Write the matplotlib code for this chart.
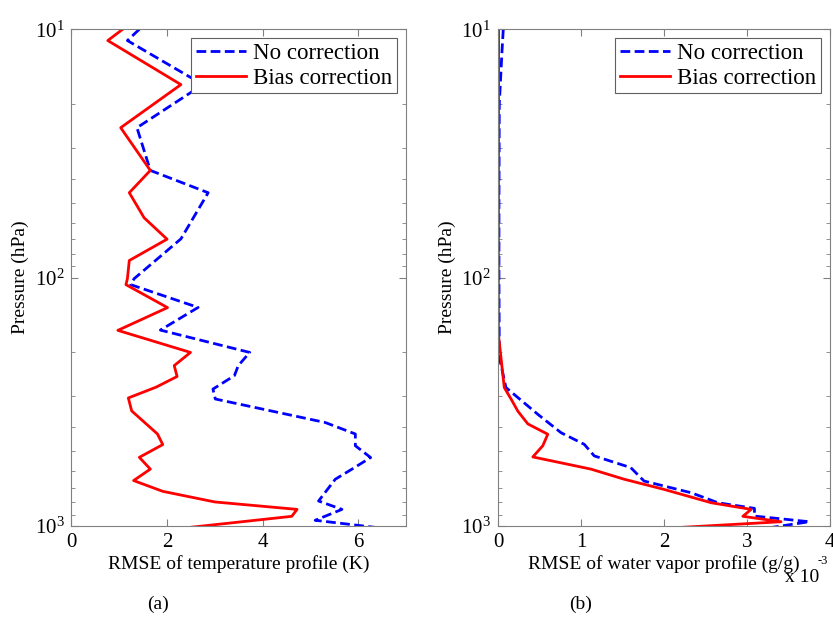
import matplotlib
matplotlib.use("Agg")
import matplotlib.pyplot as plt
import matplotlib.ticker as ticker
import numpy as np

plt.rcParams['font.family'] = ['Liberation Serif', 'DejaVu Serif']
plt.rcParams['mathtext.fontset'] = 'stix'

# temperature RMSE (K) vs pressure (hPa)
p_t_nc = [10, 11.1, 16.7, 24.9, 37.0, 45.5, 69.8, 101, 106.7, 131.8, 162.6, 200, 226, 248,
          281, 308, 383, 426, 475, 530, 590, 648, 793, 857, 948, 1013]
t_nc = [1.42, 1.17, 2.75, 1.37, 1.65, 2.86, 2.29, 1.31, 1.24, 2.65, 1.86, 3.73, 3.49, 3.41,
        2.96, 3.01, 5.31, 5.94, 5.94, 6.26, 5.87, 5.52, 5.17, 5.66, 5.10, 6.36]

p_t_bc = [10, 11.1, 16.7, 24.9, 37.0, 45.5, 57.4, 70, 85.3, 101, 106.7, 132, 163, 200, 226,
          250, 276, 305, 344, 426, 470, 529, 590, 656, 725, 800, 857, 914, 1013]
t_bc = [1.07, 0.76, 2.29, 1.03, 1.65, 1.21, 1.52, 2.00, 1.21, 1.17, 1.14, 2.01, 0.97, 2.49,
        2.15, 2.21, 1.77, 1.19, 1.26, 1.80, 1.91, 1.42, 1.65, 1.30, 1.91, 3.00, 4.72, 4.61, 2.47]

# water vapor RMSE (x 1e-3 g/g) vs pressure (hPa)
p_q_nc = [10, 12, 15, 20, 50, 100, 209, 277, 304, 355, 421, 469, 522, 582, 659, 735, 806,
          849, 912, 961, 1013]
q_nc = [0.064, 0.05, 0.035, 0.016, 0.012, 0.012, 0.016, 0.096, 0.24, 0.48, 0.76, 1.04, 1.16,
        1.60, 1.76, 2.33, 2.65, 3.09, 3.09, 3.75, 3.30]

p_q_bc = [10, 50, 100, 169, 277, 309, 345, 388, 427, 475, 527, 590, 648, 712, 806, 857, 914,
          961, 1013]
q_bc = [0.008, 0.006, 0.005, 0.005, 0.076, 0.16, 0.24, 0.36, 0.60, 0.54, 0.42, 1.12, 1.52,
        2.00, 2.57, 3.05, 2.95, 3.41, 2.20]

fig = plt.figure(figsize=(8.33, 6.22), dpi=100)
ax1 = fig.add_axes([0.0858, 0.1543, 0.4016, 0.7986])
ax2 = fig.add_axes([0.5978, 0.1543, 0.3986, 0.7986])

def style_axis(ax, xlim, xticks):
    ax.set_yscale('log')
    ax.set_ylim(1000, 10)
    ax.set_xlim(*xlim)
    ax.set_xticks(xticks)
    ax.yaxis.set_major_locator(ticker.LogLocator(base=10, numticks=5))
    ax.yaxis.set_minor_locator(ticker.LogLocator(base=10, subs=np.arange(2, 10), numticks=10))
    ax.yaxis.set_minor_formatter(ticker.NullFormatter())
    ax.tick_params(which='both', direction='in', top=True, right=True, labelsize=15,
                   color='#808080', pad=5)
    ax.tick_params(which='major', length=5)
    ax.tick_params(which='minor', length=3)
    for s in ax.spines.values():
        s.set_color('#808080')
    ax.set_ylabel('Pressure (hPa)', fontsize=14, labelpad=4)

ax1.plot(t_nc, p_t_nc, '--', color='#0000ff', lw=2, dashes=(3.5, 1.6), label='No correction')
ax1.plot(t_bc, p_t_bc, '-', color='#ff0000', lw=2, label='Bias correction')
style_axis(ax1, (0, 7), [0, 2, 4, 6])
ax1.set_xlabel('RMSE of temperature profile (K)', fontsize=14, labelpad=2)

ax2.plot(q_nc, p_q_nc, '--', color='#0000ff', lw=2, dashes=(3.5, 1.6), label='No correction')
ax2.plot(q_bc, p_q_bc, '-', color='#ff0000', lw=2, label='Bias correction')
style_axis(ax2, (0, 4), [0, 1, 2, 3, 4])
ax2.set_xlabel('RMSE of water vapor profile (g/g)', fontsize=14, labelpad=2)

for ax in (ax1, ax2):
    leg = ax.legend(loc='upper right', fontsize=16.5, fancybox=False, framealpha=1,
                    handlelength=2.2, borderaxespad=0.4, handletextpad=0.3,
                    borderpad=0.2, labelspacing=0.15)
    leg.get_frame().set_edgecolor('#606060')
    leg.get_frame().set_linewidth(0.8)

fig.text(0.988, 0.098, '-3', fontsize=9, ha='center', va='center')
fig.text(0.963, 0.071, 'x 10', fontsize=14, ha='center', va='center')
fig.text(0.190, 0.029, '(a)', fontsize=14, ha='center', va='center')
fig.text(0.697, 0.029, '(b)', fontsize=14, ha='center', va='center')

fig.savefig('out.png', dpi=100)
